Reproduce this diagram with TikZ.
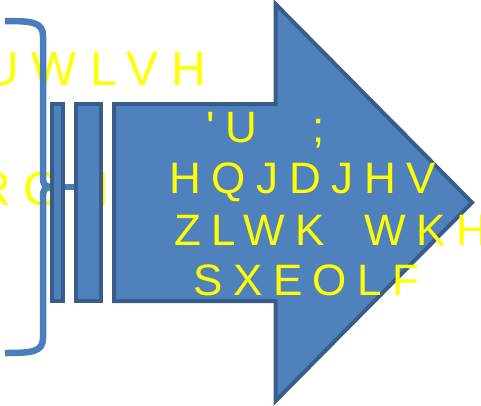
\documentclass[tikz,border=0pt]{standalone}
\usepackage{fontspec}
\newfontfamily\slidefont{Liberation Sans}[Ligatures=TeXOff]
\usetikzlibrary{calc}
\definecolor{arrowfill}{HTML}{4F81BD}
\definecolor{arrowline}{HTML}{385D8A}
\definecolor{bracecol}{HTML}{4A7EBB}
\definecolor{slideyellow}{HTML}{FFFF00}

\begin{document}
\begin{tikzpicture}[x=1pt,y=-1pt,
	bodytext/.style={anchor=base west,inner sep=0pt,text=slideyellow,
		font=\slidefont\fontsize{44}{44}\selectfont\addfontfeature{LetterSpace=24}},
	sidetext/.style={anchor=base west,inner sep=0pt,text=slideyellow,
		font=\slidefont\fontsize{48}{48}\selectfont\addfontfeature{LetterSpace=27}},
	stripe/.style={draw=arrowline,fill=arrowfill,line width=4pt}]
	\useasboundingbox (0,0) rectangle (481,405);
	\clip (0,0) rectangle (481,405);
	% text behind the brace
	\foreach \txt/\xx/\yy [count=\i] in {UWLVH/-16/85, RGHV/-24/205}
		\node[sidetext] (side\i) at (\xx,\yy) {\txt};
	% brace
	\draw[bracecol,line width=6.5pt] (5,21) .. controls (32,21) and (43,22) .. (43,36) -- (43,178)
		.. controls (43,184) and (45,187) .. (51,187) .. controls (45,187) and (43,190) .. (43,196)
		-- (43,338) .. controls (43,352) and (32,353) .. (5,353);
	\draw[bracecol,line width=6.5pt] (51,187) -- (80,187);
	% striped arrow
	\foreach \xa/\xb in {52/63, 76/101}
		\draw[stripe] (\xa,104) rectangle (\xb,301);
	\draw[stripe] (114,104) -- (275.5,104) -- (275.5,4) -- (472,202.5)
		-- (275.5,401) -- (275.5,301) -- (114,301) -- cycle;
	\foreach \txt/\xx/\yy [count=\i] in {{'U\ \ \hspace{10pt};}/206/142, HQJDJHV/169.5/193,
		{ZLWK\hspace{17pt} WKH}/174/245, SXEOLF/193/295}
		\node[bodytext] (line\i) at (\xx,\yy) {\txt};
\end{tikzpicture}
\end{document}
